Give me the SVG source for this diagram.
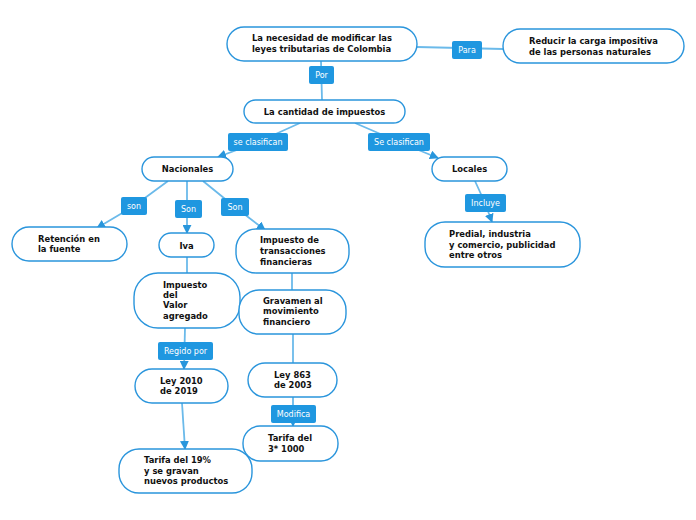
<svg xmlns="http://www.w3.org/2000/svg" width="696" height="520" viewBox="0 0 696 520">
<defs>
<marker id="arr" viewBox="0 0 10 10" refX="9" refY="5" markerWidth="9" markerHeight="9" markerUnits="userSpaceOnUse" orient="auto">
<path d="M0,0 L10,5 L0,10 z" fill="#2896dc"/>
</marker>
<style>
.node rect{fill:#fff;stroke:#2a95dc;stroke-width:1.4}
.node text{font-family:"DejaVu Sans",Verdana,sans-serif;font-weight:bold;font-size:8.4px;fill:#111}
.conn path{fill:none;stroke:#6bbaea;stroke-width:1.8}
.lbl rect{fill:#1f97e0;rx:2}
.lbl text{font-family:"DejaVu Sans",Verdana,sans-serif;font-size:8px;fill:#fff;text-anchor:middle}
</style>
</defs>
<rect width="696" height="520" fill="#fff"/>
<g id="connectors" class="conn">
<path d="M417,47 L503,49"/>
<path d="M321,61 L322,100"/>
<path d="M300,123 L258,142 L218,157" marker-end="url(#arr)"/>
<path d="M355,123 L399,142 L438,158" marker-end="url(#arr)"/>
<path d="M168,181 L134,206 L97,228" marker-end="url(#arr)"/>
<path d="M187,181 L187,233" marker-end="url(#arr)"/>
<path d="M203,181 L235,207 L265,230" marker-end="url(#arr)"/>
<path d="M475,181 L485,203 L492,222" marker-end="url(#arr)"/>
<path d="M187,257 L187,273"/>
<path d="M292,273 L292,290"/>
<path d="M185,328 L184,369" marker-end="url(#arr)"/>
<path d="M293,334 L293,363"/>
<path d="M182,403 L185,449" marker-end="url(#arr)"/>
<path d="M293,397 L293,426" marker-end="url(#arr)"/>
</g>
<g id="labels" class="lbl">
<g id="l-para"><rect x="452" y="41" width="30" height="18"/><text x="467" y="53">Para</text></g>
<g id="l-por"><rect x="309" y="66" width="25" height="18"/><text x="321.5" y="78">Por</text></g>
<g id="l-secl1"><rect x="228" y="133" width="60" height="18"/><text x="258" y="145">se clasifican</text></g>
<g id="l-secl2"><rect x="368" y="133" width="62" height="18"/><text x="399" y="145">Se clasifican</text></g>
<g id="l-son1"><rect x="121" y="197" width="26" height="18"/><text x="134" y="209">son</text></g>
<g id="l-son2"><rect x="175" y="200" width="27" height="18"/><text x="188.5" y="212">Son</text></g>
<g id="l-son3"><rect x="221" y="198" width="28" height="18"/><text x="235" y="210">Son</text></g>
<g id="l-incluye"><rect x="465" y="194" width="41" height="18"/><text x="485.5" y="206">Incluye</text></g>
<g id="l-regido"><rect x="158" y="342" width="55" height="18"/><text x="185.5" y="354">Regido por</text></g>
<g id="l-modifica"><rect x="271" y="405" width="45" height="18"/><text x="293.5" y="417">Modifica</text></g>
</g>
<g id="n1" class="node"><rect x="227" y="27" width="190" height="34" rx="17"/><text x="252" y="41">La necesidad de modificar las</text><text x="252" y="52">leyes tributarias de Colombia</text></g>
<g id="n2" class="node"><rect x="503" y="29" width="181" height="34" rx="17"/><text x="529" y="44">Reducir la carga impositiva</text><text x="529" y="55">de las personas naturales</text></g>
<g id="n3" class="node"><rect x="244" y="100" width="161" height="23" rx="11.5"/><text x="324.5" y="115" text-anchor="middle">La cantidad de impuestos</text></g>
<g id="n4" class="node"><rect x="142" y="157" width="91" height="24" rx="12"/><text x="187.5" y="172" text-anchor="middle">Nacionales</text></g>
<g id="n5" class="node"><rect x="432" y="157" width="75" height="24" rx="12"/><text x="469.5" y="172" text-anchor="middle">Locales</text></g>
<g id="n6" class="node"><rect x="12" y="227" width="115" height="34" rx="17"/><text x="38" y="242">Retención en</text><text x="38" y="252">la fuente</text></g>
<g id="n7" class="node"><rect x="159" y="233" width="55" height="24" rx="12"/><text x="186.5" y="249" text-anchor="middle">Iva</text></g>
<g id="n8" class="node"><rect x="236" y="229" width="113" height="44" rx="20"/><text x="260" y="243">Impuesto de</text><text x="260" y="254">transacciones</text><text x="260" y="265">financieras</text></g>
<g id="n9" class="node"><rect x="425" y="222" width="155" height="45" rx="20"/><text x="449" y="237">Predial, industria</text><text x="449" y="248">y comercio, publicidad</text><text x="449" y="258">entre otros</text></g>
<g id="n10" class="node"><rect x="134" y="273" width="106" height="55" rx="24"/><text x="163" y="288">Impuesto</text><text x="163" y="298">del</text><text x="163" y="308">Valor</text><text x="163" y="319">agregado</text></g>
<g id="n11" class="node"><rect x="239" y="290" width="107" height="44" rx="20"/><text x="263" y="304">Gravamen al</text><text x="263" y="314">movimiento</text><text x="263" y="325">financiero</text></g>
<g id="n12" class="node"><rect x="135" y="369" width="93" height="34" rx="17"/><text x="160" y="384">Ley 2010</text><text x="160" y="394">de 2019</text></g>
<g id="n13" class="node"><rect x="248" y="363" width="89" height="34" rx="17"/><text x="274" y="378">Ley 863</text><text x="274" y="388">de 2003</text></g>
<g id="n14" class="node"><rect x="243" y="426" width="95" height="35" rx="17"/><text x="268" y="441">Tarifa del</text><text x="268" y="452">3* 1000</text></g>
<g id="n15" class="node"><rect x="119" y="449" width="133" height="44" rx="20"/><text x="144" y="463">Tarifa del 19%</text><text x="144" y="474">y se gravan</text><text x="144" y="484">nuevos productos</text></g>
</svg>
